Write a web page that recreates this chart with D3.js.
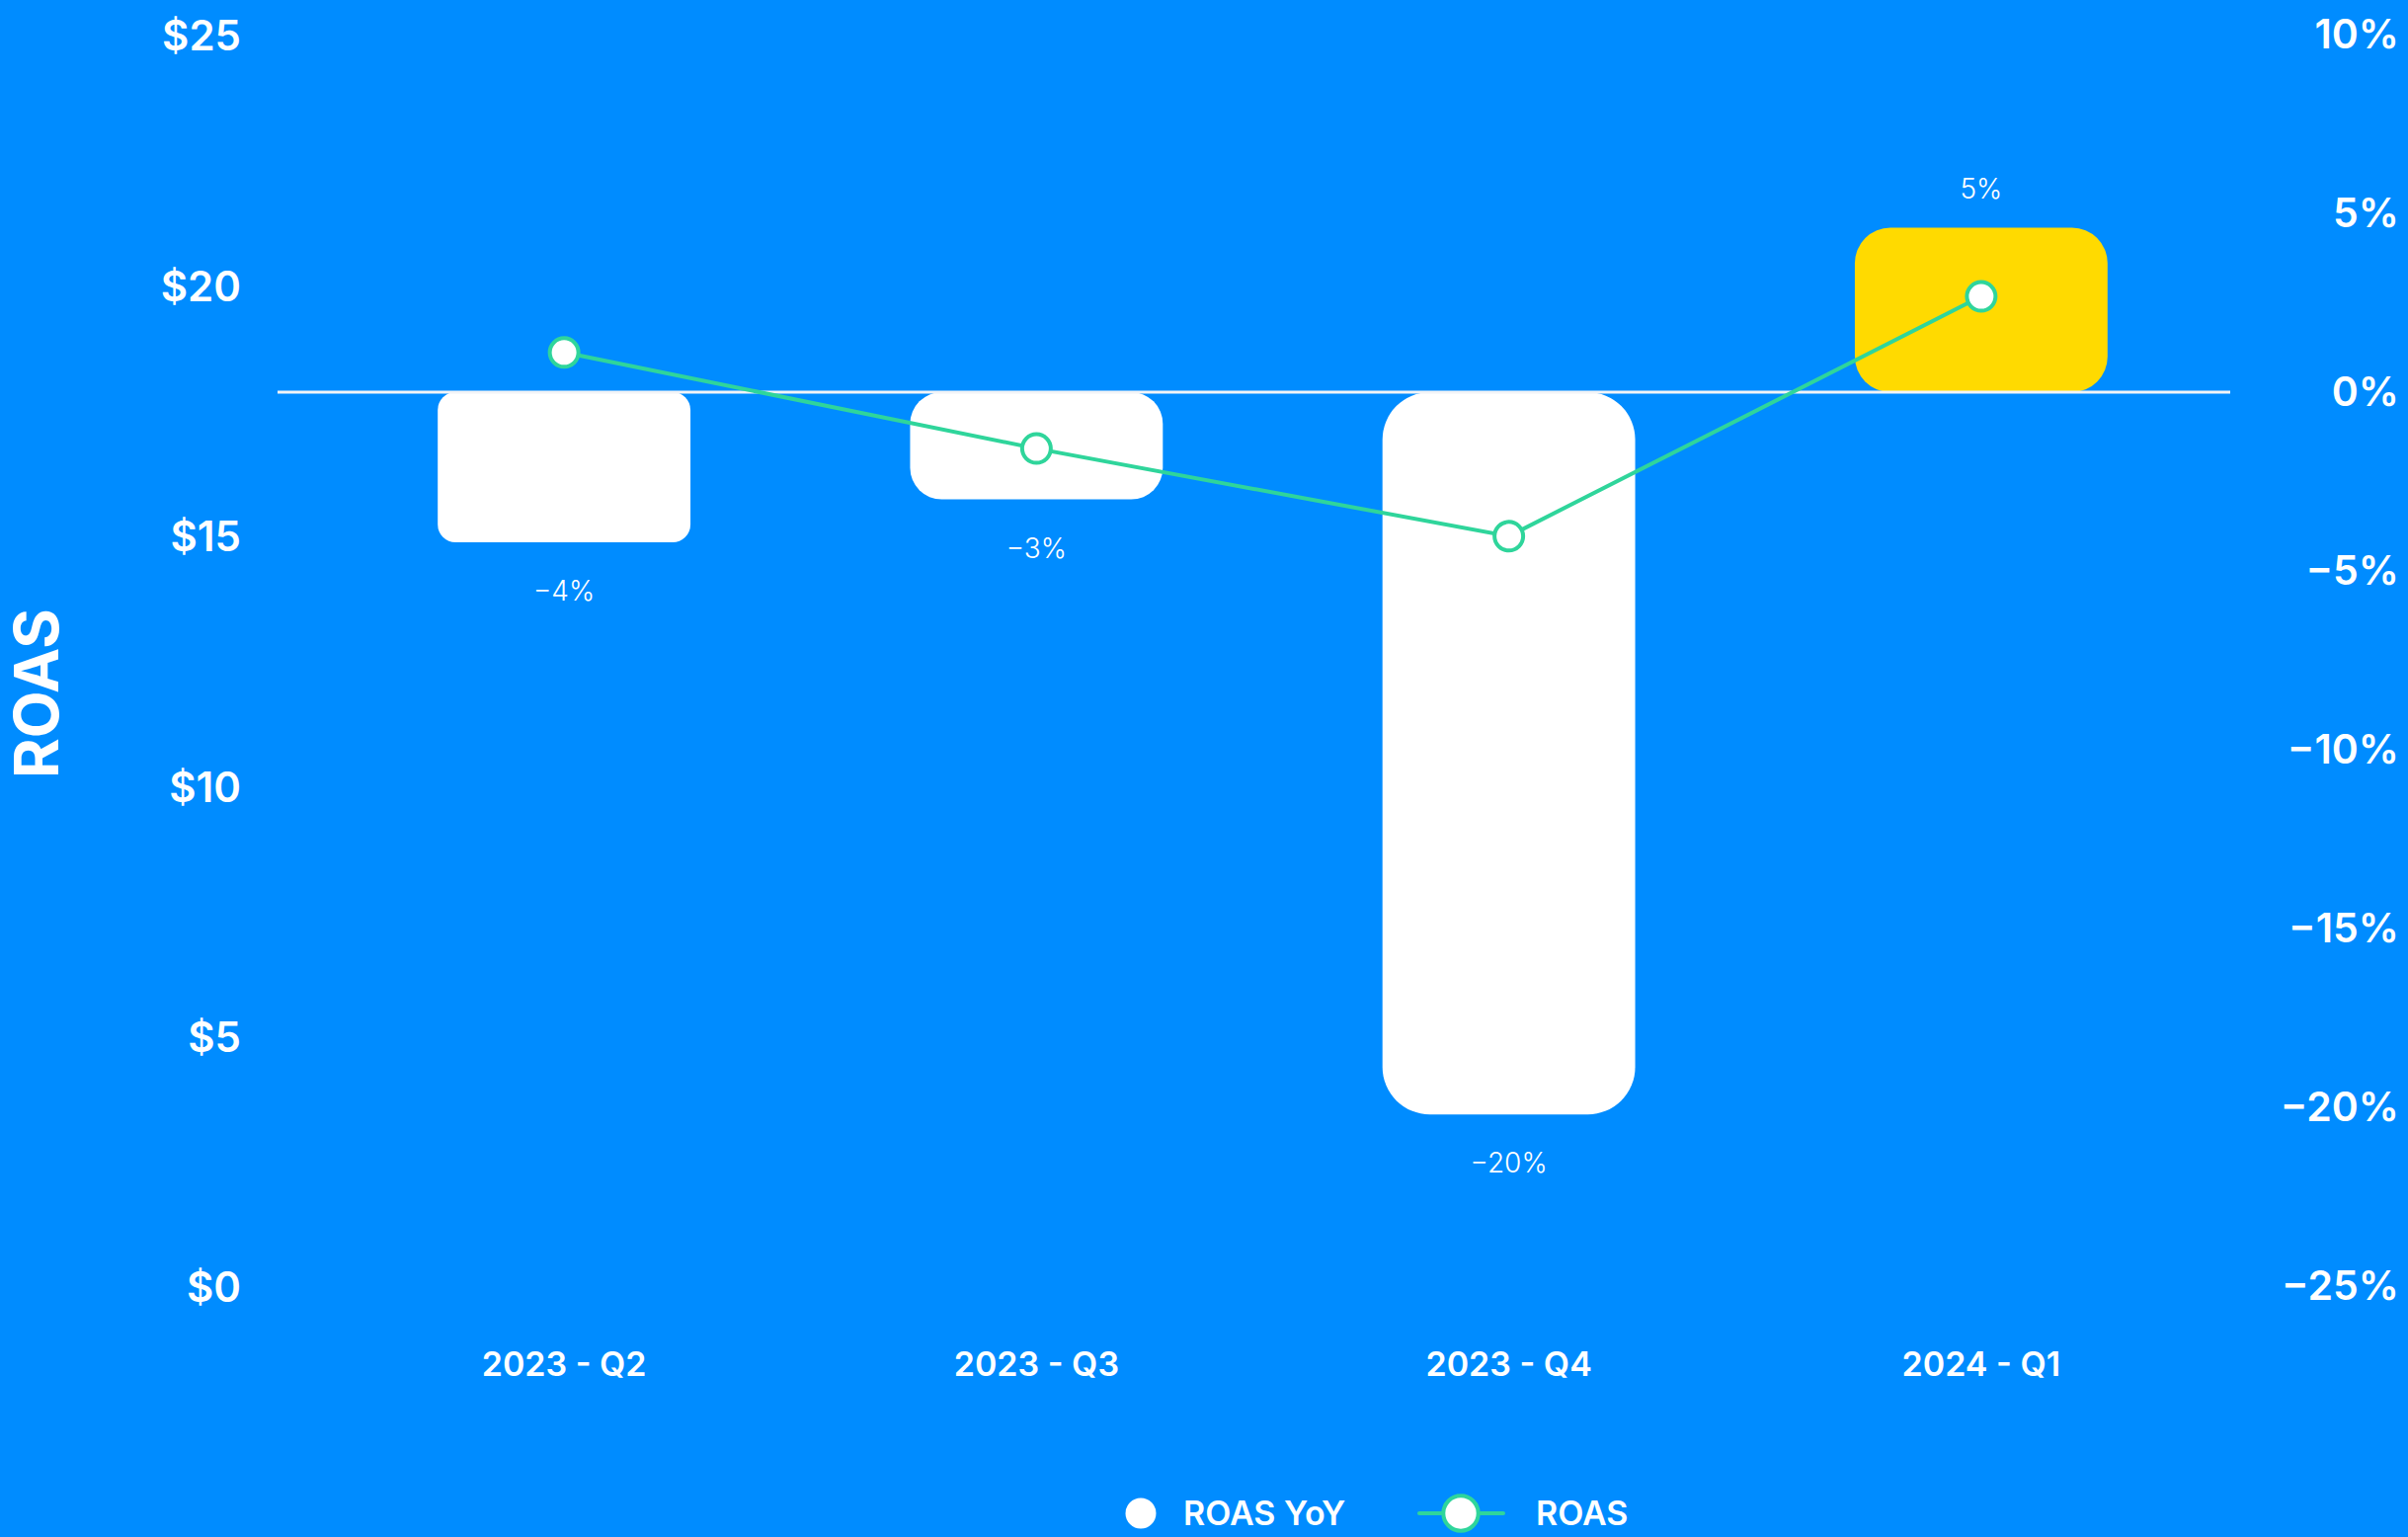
<!DOCTYPE html>
<html>
<head>
<meta charset="utf-8">
<script src="https://cdn.jsdelivr.net/npm/d3@7"></script>
<style>
  html, body { margin: 0; padding: 0; background: #008CFF; }
  svg { display: block; }
  text { font-family: Inter, "Open Sans", "DejaVu Sans", sans-serif; fill: #ffffff; }
</style>
</head>
<body>
<svg id="chart" width="2438" height="1556"></svg>
<script>
// ---- data ----
const categories = ["2023 - Q2", "2023 - Q3", "2023 - Q4", "2024 - Q1"];
const roasYoY = [-4.2, -3.0, -20.2, 4.6];          // % (bars, right axis)
const roas = [18.65, 16.73, 14.98, 19.77];          // $ (line, left axis)
const leftTicks = [0, 5, 10, 15, 20, 25];
const rightTicks = [-25, -20, -15, -10, -5, 0, 5, 10];
const seriesNames = ["ROAS YoY", "ROAS"];
const axisTitle = "ROAS";

// ---- styles ----
const BG = "#008CFF", GREEN = "#2fd59b", YELLOW = "#FFDA00", WHITE = "#ffffff";
const barRadius = [18, 32, 48, 36];

const W = 2438, H = 1556;
const plotTop = 35, plotBottom = 1302;
const svg = d3.select("#chart");
svg.append("rect").attr("width", W).attr("height", H).attr("fill", BG);

const x = d3.scaleBand().domain(categories).range([332, 2245])
  .paddingInner(0.465).paddingOuter(0.2325);
const yL = d3.scaleLinear().domain([0, 25]).range([plotBottom, plotTop]);
const yR = d3.scaleLinear().domain([-25, 10]).range([plotBottom, plotTop]);

// left axis
const leftAxis = d3.axisLeft(yL).tickValues(leftTicks).tickSize(0).tickPadding(0)
  .tickFormat(d => "$" + d);
const gL = svg.append("g").attr("transform", "translate(244,0)").call(leftAxis);
gL.select(".domain").remove();
gL.selectAll("text").attr("font-size", 42).attr("font-weight", 600)
  .attr("fill", WHITE).attr("dy", "0.38em").attr("x", 0);

// right axis
const rightAxis = d3.axisRight(yR).tickValues(rightTicks).tickSize(0).tickPadding(0)
  .tickFormat(d => (d < 0 ? "−" + Math.abs(d) : d) + "%");
const gR = svg.append("g").attr("transform", "translate(2429,0)").call(rightAxis);
gR.select(".domain").remove();
gR.selectAll("text").attr("font-size", 41).attr("font-weight", 600)
  .attr("fill", WHITE).attr("dy", "0.32em").attr("x", 0).attr("text-anchor", "end");

// axis title
svg.append("text").attr("transform", "translate(37,702) rotate(-90)")
  .attr("text-anchor", "middle").attr("dy", "0.36em")
  .attr("font-size", 62).attr("font-weight", 700).text(axisTitle);

// x axis labels
const xAxis = d3.axisBottom(x).tickSize(0).tickPadding(0);
const gX = svg.append("g").attr("transform", "translate(0,1381)").call(xAxis);
gX.select(".domain").remove();
gX.selectAll("text").attr("font-size", 34).attr("font-weight", 600)
  .attr("fill", WHITE).attr("dy", "0.36em").attr("y", 0);

// rounded bar path
function roundedRect(x0, y0, w, h, r) {
  r = Math.min(r, w / 2, h / 2);
  return `M${x0 + r},${y0}H${x0 + w - r}A${r},${r} 0 0 1 ${x0 + w},${y0 + r}` +
    `V${y0 + h - r}A${r},${r} 0 0 1 ${x0 + w - r},${y0 + h}H${x0 + r}` +
    `A${r},${r} 0 0 1 ${x0},${y0 + h - r}V${y0 + r}A${r},${r} 0 0 1 ${x0 + r},${y0}Z`;
}

const bars = categories.map((c, i) => ({ c, v: roasYoY[i], r: barRadius[i] }));
svg.append("g").selectAll("path").data(bars).join("path")
  .attr("d", d => {
    const y0 = Math.min(yR(0), yR(d.v)), h = Math.abs(yR(d.v) - yR(0));
    return roundedRect(x(d.c), y0, x.bandwidth(), h, d.r);
  })
  .attr("fill", d => d.v >= 0 ? YELLOW : WHITE);

// zero line
svg.append("line").attr("x1", 281).attr("x2", 2258)
  .attr("y1", yR(0)).attr("y2", yR(0))
  .attr("stroke", "#f2f4f7").attr("stroke-width", 3);

// bar value labels
const fmt = d3.format(".0f");
svg.append("g").selectAll("text").data(bars).join("text")
  .attr("x", d => x(d.c) + x.bandwidth() / 2)
  .attr("y", d => d.v >= 0 ? yR(d.v) - 40 : yR(d.v) + 49)
  .attr("dy", "0.36em").attr("text-anchor", "middle")
  .attr("font-size", 28).attr("font-weight", 300)
  .text(d => fmt(d.v) + "%");

// line
const pts = categories.map((c, i) => ({ c, v: roas[i] }));
const line = d3.line().x(d => x(d.c) + x.bandwidth() / 2).y(d => yL(d.v));
svg.append("path").datum(pts).attr("d", line)
  .attr("fill", "none").attr("stroke", GREEN).attr("stroke-width", 4);
svg.append("g").selectAll("circle").data(pts).join("circle")
  .attr("cx", d => x(d.c) + x.bandwidth() / 2).attr("cy", d => yL(d.v))
  .attr("r", 14.5).attr("fill", WHITE).attr("stroke", GREEN).attr("stroke-width", 4);

// legend
const lg = svg.append("g").attr("transform", "translate(0,1532)");
lg.append("circle").attr("cx", 1155).attr("cy", 0).attr("r", 15.5).attr("fill", WHITE);
lg.append("text").attr("x", 1198).attr("dy", "0.36em").attr("font-size", 34)
  .attr("font-weight", 600).text(seriesNames[0]);
lg.append("line").attr("x1", 1437).attr("x2", 1522).attr("y1", 0).attr("y2", 0)
  .attr("stroke", GREEN).attr("stroke-width", 4).attr("stroke-linecap", "round");
lg.append("circle").attr("cx", 1479).attr("cy", 0).attr("r", 17.7)
  .attr("fill", WHITE).attr("stroke", GREEN).attr("stroke-width", 4);
lg.append("text").attr("x", 1555).attr("dy", "0.36em").attr("font-size", 34)
  .attr("font-weight", 600).text(seriesNames[1]);
</script>
</body>
</html>
